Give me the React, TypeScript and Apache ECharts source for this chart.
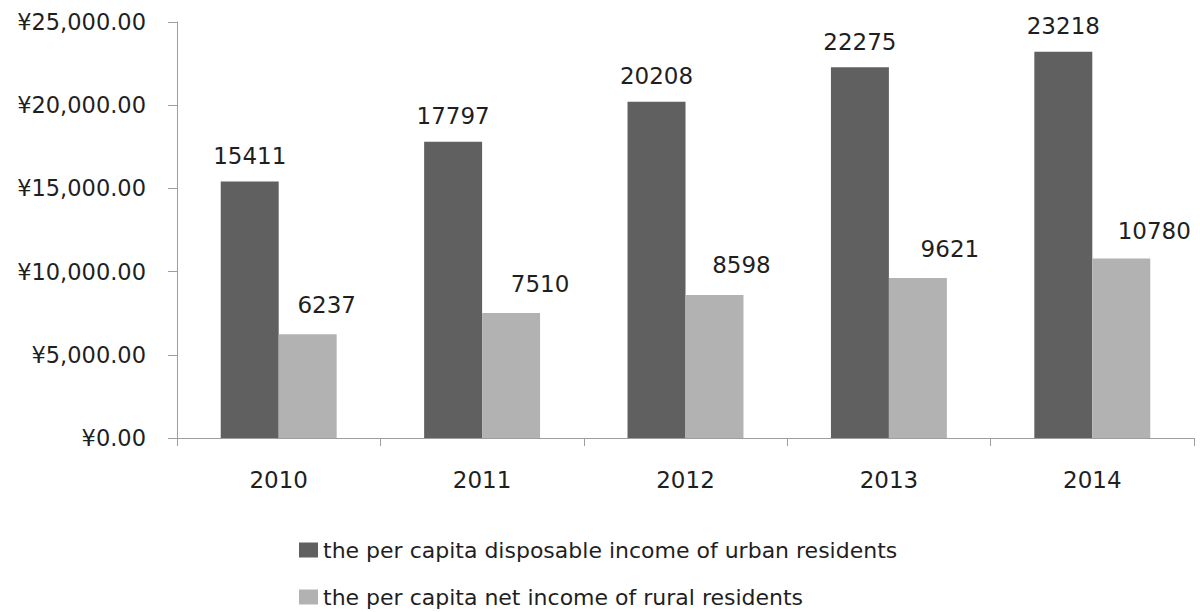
import React, { useEffect, useRef } from "react";
import * as echarts from "echarts";

const years = ["2010", "2011", "2012", "2013", "2014"];
const urbanIncome = [15411, 17797, 20208, 22275, 23218];
const ruralIncome = [6237, 7510, 8598, 9621, 10780];
const urbanName = "the per capita disposable income of urban residents";
const ruralName = "the per capita net income of rural residents";
const yTicks = { min: 0, max: 25000, interval: 5000 };

// label nudges for rural labels (as placed in the original)
const ruralLabelShift: [number, number][] = [
  [19, -2],
  [29, -2],
  [27, -2],
  [32, -1],
  [33, 0],
];

const FONT = "'DejaVu Sans', sans-serif";
const TEXT = "#1f1f1f";
const AXIS = "#9e9e9e";

export default function App() {
  const ref = useRef<HTMLDivElement>(null);
  useEffect(() => {
    if (!ref.current) return;
    const chart = echarts.init(ref.current, undefined, { renderer: "svg" });
    const legendBase = {
      orient: "horizontal",
      left: 294,
      icon: "rect",
      itemWidth: 19,
      itemHeight: 15,
      textStyle: { fontFamily: FONT, fontSize: 22, color: TEXT, lineHeight: 22 },
    };
    chart.setOption({
      animation: false,
      textStyle: { fontFamily: FONT },
      grid: { left: 177, right: 6, top: 22, bottom: 174, containLabel: false },
      legend: [
        { ...legendBase, top: 534, data: [urbanName] },
        { ...legendBase, top: 581, data: [ruralName] },
      ],
      xAxis: {
        type: "category",
        data: years,
        axisLine: { show: true, lineStyle: { color: AXIS, width: 1 } },
        axisTick: { show: true, length: 8, lineStyle: { color: AXIS } },
        axisLabel: { fontFamily: FONT, fontSize: 23, color: TEXT, margin: 30 },
      },
      yAxis: {
        type: "value",
        min: yTicks.min,
        max: yTicks.max,
        interval: yTicks.interval,
        splitLine: { show: false },
        axisLine: { show: true, lineStyle: { color: AXIS, width: 1 } },
        axisTick: { show: true, length: 9, lineStyle: { color: AXIS } },
        axisLabel: {
          fontFamily: FONT,
          fontSize: 22.5,
          color: TEXT,
          margin: 31,
          formatter: (v: number) =>
            "¥" +
            v.toLocaleString("en-US", { minimumFractionDigits: 2, maximumFractionDigits: 2 }),
        },
      },
      series: [
        {
          name: urbanName,
          type: "bar",
          data: urbanIncome,
          barGap: "0%",
          barCategoryGap: "43%",
          itemStyle: { color: "#606060" },
          label: {
            show: true,
            position: "top",
            distance: 14,
            fontFamily: FONT,
            fontSize: 23,
            color: TEXT,
          },
        },
        {
          name: ruralName,
          type: "bar",
          data: ruralIncome.map((v, i) => ({
            value: v,
            label: { offset: ruralLabelShift[i] },
          })),
          barGap: "0%",
          barCategoryGap: "43%",
          itemStyle: { color: "#b2b2b2" },
          label: {
            show: true,
            position: "top",
            distance: 16,
            fontFamily: FONT,
            fontSize: 23,
            color: TEXT,
          },
        },
      ],
    });
    return () => chart.dispose();
  }, []);
  return (
    <div
      ref={ref}
      style={{ position: "fixed", left: 0, top: 0, width: 1200, height: 612, background: "#fff" }}
    />
  );
}
